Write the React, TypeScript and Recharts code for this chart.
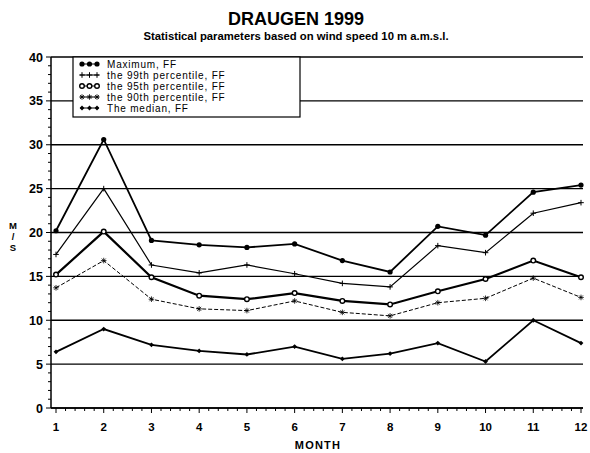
import { LineChart, Line, XAxis, YAxis, CartesianGrid } from 'recharts'

// monthly wind speed statistics, m/s
const months = [1, 2, 3, 4, 5, 6, 7, 8, 9, 10, 11, 12]
const maximumFF = [20.2, 30.6, 19.1, 18.6, 18.3, 18.7, 16.8, 15.5, 20.7, 19.7, 24.6, 25.4]
const p99FF     = [17.5, 25.0, 16.3, 15.4, 16.3, 15.3, 14.2, 13.8, 18.5, 17.7, 22.2, 23.4]
const p95FF     = [15.2, 20.1, 14.9, 12.8, 12.4, 13.1, 12.2, 11.8, 13.3, 14.7, 16.8, 14.9]
const p90FF     = [13.7, 16.8, 12.4, 11.3, 11.1, 12.2, 10.9, 10.5, 12.0, 12.5, 14.8, 12.6]
const medianFF  = [6.4, 9.0, 7.2, 6.5, 6.1, 7.0, 5.6, 6.2, 7.4, 5.3, 10.0, 7.4]

const yMajorTicks = [0, 5, 10, 15, 20, 25, 30, 35, 40]
const yTicks = Array.from({ length: 41 }, (_, i) => i)
const xTicks = Array.from({ length: 56 }, (_, i) => 1 + i * 0.2)

const data = months.map((m, i) => ({
  month: m,
  max: maximumFF[i],
  p99: p99FF[i],
  p95: p95FF[i],
  p90: p90FF[i],
  med: medianFF[i],
}))

type Kind = 'dot' | 'plus' | 'ring' | 'star' | 'diamond'

const series: { key: string; name: string; width: number; dash?: string; marker: Kind }[] = [
  { key: 'max', name: 'Maximum, FF',             width: 1.8, marker: 'dot' },
  { key: 'p99', name: 'the 99th percentile, FF', width: 1.2, marker: 'plus' },
  { key: 'p95', name: 'the 95th percentile, FF', width: 2.2, marker: 'ring' },
  { key: 'p90', name: 'the 90th percentile, FF', width: 1,   dash: '4 2', marker: 'star' },
  { key: 'med', name: 'The median, FF',          width: 1.8, marker: 'diamond' },
]

const FONT = '"Liberation Sans", Arial, sans-serif'

function Marker({ kind, cx, cy }: { kind: Kind; cx?: number; cy?: number }) {
  if (cx == null || cy == null) return null
  const s = 2.8
  switch (kind) {
    case 'dot':
      return <circle cx={cx} cy={cy} r={2.6} fill="#000" />
    case 'plus':
      return <path d={`M${cx - s},${cy}H${cx + s}M${cx},${cy - s}V${cy + s}`} stroke="#000" strokeWidth={1} fill="none" />
    case 'ring':
      return <circle cx={cx} cy={cy} r={2.3} fill="#fff" stroke="#000" strokeWidth={1.4} />
    case 'star':
      return (
        <path
          d={`M${cx - s},${cy}H${cx + s}M${cx},${cy - s}V${cy + s}M${cx - 2},${cy - 2}L${cx + 2},${cy + 2}M${cx - 2},${cy + 2}L${cx + 2},${cy - 2}`}
          stroke="#000" strokeWidth={0.8} fill="none"
        />
      )
    default:
      return <path d={`M${cx},${cy - 2.4}L${cx + 2.4},${cy}L${cx},${cy + 2.4}L${cx - 2.4},${cy}Z`} fill="#000" />
  }
}

function YTick({ x, y, payload }: any) {
  const v = payload.value
  const major = v % 5 === 0
  return (
    <g>
      <line x1={x - (major ? 5 : 3)} x2={x} y1={y} y2={y} stroke="#000" strokeWidth={1} />
      {major && (
        <text x={x - 8} y={y + 4.5} textAnchor="end" fontFamily={FONT} fontWeight="bold" fontSize={12.5} fill="#000">
          {v}
        </text>
      )}
    </g>
  )
}

function XTick({ x, y, payload }: any) {
  const v = payload.value
  const major = Math.abs(v - Math.round(v)) < 1e-6
  return (
    <g>
      <line x1={x} x2={x} y1={y} y2={y + (major ? 5 : 3)} stroke="#000" strokeWidth={1} />
      {major && (
        <text x={x} y={y + 23} textAnchor="middle" fontFamily={FONT} fontWeight="bold" fontSize={11.5} fill="#000">
          {Math.round(v)}
        </text>
      )}
    </g>
  )
}

export default function App() {
  return (
    <div style={{ position: 'absolute', left: 0, top: 0, width: 590, height: 453, background: '#fff' }}>
      <LineChart width={590} height={453} data={data} margin={{ top: 57, right: 7, bottom: 0, left: 0 }}>
        <CartesianGrid vertical={false} horizontalValues={yMajorTicks} stroke="#000" strokeWidth={1.4} />
        <XAxis
          dataKey="month" type="number" domain={[1, 12]} ticks={xTicks} interval={0}
          padding={{ left: 5, right: 2 }} height={45} tickSize={0} tickMargin={0}
          tickLine={false} tick={<XTick />} axisLine={{ stroke: '#000', strokeWidth: 1.5 }}
        />
        <YAxis
          type="number" domain={[0, 40]} ticks={yTicks} interval={0} width={51}
          tickSize={0} tickMargin={0} tickLine={false} tick={<YTick />}
          axisLine={{ stroke: '#000', strokeWidth: 1.5 }}
        />
        <YAxis
          yAxisId="r" orientation="right" domain={[0, 40]} width={0}
          tick={false} tickLine={false} axisLine={{ stroke: '#000', strokeWidth: 1.5 }}
        />
        {series.map(s => (
          <Line
            key={s.key} dataKey={s.key} name={s.name} type="linear"
            stroke="#000" strokeWidth={s.width} strokeDasharray={s.dash}
            dot={(p: any) => <Marker key={p.index} kind={s.marker} cx={p.cx} cy={p.cy} />}
            activeDot={false} isAnimationActive={false}
          />
        ))}
      </LineChart>

      <svg width={590} height={453} style={{ position: 'absolute', left: 0, top: 0, pointerEvents: 'none' }}>
        <text x={296} y={25} textAnchor="middle" fontFamily={FONT} fontWeight="bold" fontSize={18}>
          DRAUGEN 1999
        </text>
        <text x={296} y={40} textAnchor="middle" fontFamily={FONT} fontWeight="bold" fontSize={11.3}>
          Statistical parameters based on wind speed 10 m a.m.s.l.
        </text>

        {/* stacked y unit */}
        <text x={13} textAnchor="middle" fontFamily={FONT} fontWeight="bold" fontSize={9.5}>
          <tspan x={13} y={229}>M</tspan>
          <tspan x={13} y={240}>/</tspan>
          <tspan x={13} y={251}>S</tspan>
        </text>
        <text x={318} y={449} textAnchor="middle" fontFamily={FONT} fontWeight="bold" fontSize={11} letterSpacing={1.2}>
          MONTH
        </text>

        {/* legend */}
        <rect x={73} y={57} width={227} height={60} fill="#fff" stroke="#000" strokeWidth={1.2} />
        {series.map((s, i) => {
          const cy = 64 + i * 11
          return (
            <g key={s.key}>
              <line x1={80} x2={99} y1={cy} y2={cy} stroke="#000" strokeWidth={1} />
              <Marker kind={s.marker} cx={82} cy={cy} />
              <Marker kind={s.marker} cx={89.5} cy={cy} />
              <Marker kind={s.marker} cx={97} cy={cy} />
              <text x={107} y={cy + 3.6} fontFamily={FONT} fontSize={10} letterSpacing={0.8} fill="#000">
                {s.name}
              </text>
            </g>
          )
        })}
      </svg>
    </div>
  )
}
